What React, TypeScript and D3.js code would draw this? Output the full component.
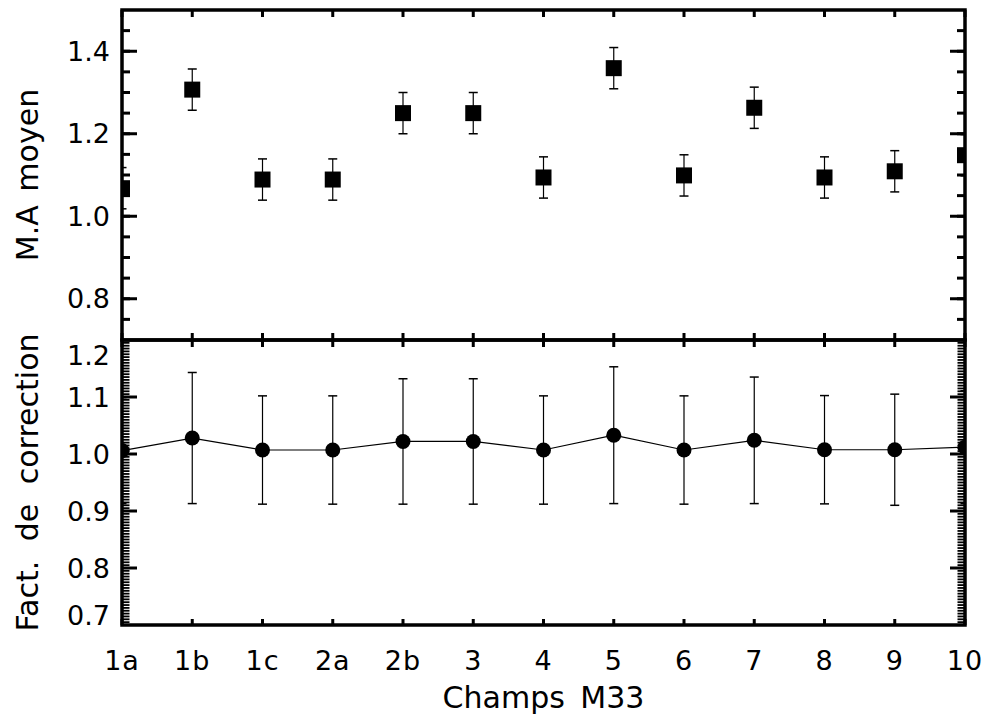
import React from 'react';
import * as d3 from 'd3';

const categories = ['1a', '1b', '1c', '2a', '2b', '3', '4', '5', '6', '7', '8', '9', '10'];
const meanValues = [1.068, 1.307, 1.089, 1.089, 1.25, 1.25, 1.094, 1.359, 1.099, 1.263, 1.094, 1.109, 1.148];
const meanErrors = [0.05, 0.05, 0.05, 0.05, 0.05, 0.05, 0.05, 0.05, 0.05, 0.05, 0.05, 0.05, 0.05];
const corrValues = [1.006, 1.028, 1.007, 1.007, 1.022, 1.022, 1.007, 1.033, 1.007, 1.024, 1.0075, 1.0075, 1.012];
const corrErrors = [0.093, 0.115, 0.095, 0.095, 0.11, 0.11, 0.095, 0.12, 0.095, 0.111, 0.095, 0.0975, 0.099];
const topDomain = [0.7, 1.5];
const bottomDomain = [0.7, 1.2];
const xTitle = 'Champs M33';
const topTitle = 'M.A moyen';
const bottomTitle = 'Fact. de correction';

const W = 987;
const H = 715;
const left = 122;
const right = 965;
const topY0 = 10;
const midY = 340;
const botY1 = 625;
const FONT = 'DejaVu Sans, sans-serif';

export default function App() {
  const x = d3.scalePoint<string>().domain(categories).range([left, right]);
  const yTop = d3.scaleLinear().domain(topDomain).range([midY, topY0]);
  const yBot = d3.scaleLinear().domain(bottomDomain).range([botY1, midY]);

  const topMajor = yTop.ticks(4).filter((t) => t > topDomain[0] + 1e-9 && t < topDomain[1] - 1e-9);
  const topMinor = yTop.ticks(16).filter((t) => t > topDomain[0] + 1e-9 && t < topDomain[1] - 1e-9);
  const botMajor = yBot.ticks(5);
  const botMinor = yBot.ticks(100).filter((t) => t > bottomDomain[0] + 1e-9 && t < bottomDomain[1] - 1e-9);

  const line = d3
    .line<number>()
    .x((_, i) => x(categories[i]) as number)
    .y((d) => yBot(d));

  const yAxisTicks = (
    scale: d3.ScaleLinear<number, number>,
    major: number[],
    minor: number[],
    majLen: number,
    minLen: number,
    minW: number,
    key: string
  ) => (
    <g key={key}>
      {minor.map((t, i) => (
        <g key={'mi' + i}>
          <line x1={left} x2={left + minLen} y1={scale(t)} y2={scale(t)} stroke="#000" strokeWidth={minW} />
          <line x1={right} x2={right - minLen} y1={scale(t)} y2={scale(t)} stroke="#000" strokeWidth={minW} />
        </g>
      ))}
      {major.map((t, i) => (
        <g key={'ma' + i}>
          <line x1={left} x2={left + majLen} y1={scale(t)} y2={scale(t)} stroke="#000" strokeWidth={3} />
          <line x1={right} x2={right - majLen} y1={scale(t)} y2={scale(t)} stroke="#000" strokeWidth={3} />
        </g>
      ))}
    </g>
  );

  return (
    <svg width={W} height={H} style={{ position: 'absolute', left: 0, top: 0, background: '#fff' }}>
      <defs>
        <clipPath id="clipTop">
          <rect x={left} y={topY0} width={right - left} height={midY - topY0} />
        </clipPath>
        <clipPath id="clipBot">
          <rect x={left} y={midY} width={right - left} height={botY1 - midY} />
        </clipPath>
      </defs>
      <rect x={0} y={0} width={W} height={H} fill="#fff" />

      {/* top panel data */}
      <g clipPath="url(#clipTop)">
        {meanValues.map((v, i) => {
          const cx = x(categories[i]) as number;
          const e = meanErrors[i];
          return (
            <g key={'t' + i}>
              <line x1={cx} x2={cx} y1={yTop(v - e)} y2={yTop(v + e)} stroke="#000" strokeWidth={1.2} />
              <line x1={cx - 4.5} x2={cx + 4.5} y1={yTop(v - e)} y2={yTop(v - e)} stroke="#000" strokeWidth={1.5} />
              <line x1={cx - 4.5} x2={cx + 4.5} y1={yTop(v + e)} y2={yTop(v + e)} stroke="#000" strokeWidth={1.5} />
              <rect x={cx - 8} y={yTop(v) - 8} width={16} height={16} fill="#000" />
            </g>
          );
        })}
      </g>

      {/* bottom panel data */}
      <g clipPath="url(#clipBot)">
        <path d={line(corrValues) as string} fill="none" stroke="#000" strokeWidth={1.2} />
        {corrValues.map((v, i) => {
          const cx = x(categories[i]) as number;
          const e = corrErrors[i];
          return (
            <g key={'b' + i}>
              <line x1={cx} x2={cx} y1={yBot(v - e)} y2={yBot(v + e)} stroke="#000" strokeWidth={1.2} />
              <line x1={cx - 4.5} x2={cx + 4.5} y1={yBot(v - e)} y2={yBot(v - e)} stroke="#000" strokeWidth={1.5} />
              <line x1={cx - 4.5} x2={cx + 4.5} y1={yBot(v + e)} y2={yBot(v + e)} stroke="#000" strokeWidth={1.5} />
              <circle cx={cx} cy={yBot(v)} r={7.5} fill="#000" />
            </g>
          );
        })}
      </g>

      {/* y ticks */}
      {yAxisTicks(yTop, topMajor, topMinor, 15, 8, 3, 'yt')}
      {yAxisTicks(yBot, botMajor.filter((t) => t > 0.7 + 1e-9 && t < 1.2 - 1e-9), botMinor, 15, 7.5, 1.8, 'yb')}

      {/* x ticks */}
      {categories.map((c, i) => {
        const cx = x(c) as number;
        return (
          <g key={'xt' + i}>
            <line x1={cx} x2={cx} y1={topY0} y2={topY0 + 7} stroke="#000" strokeWidth={3} />
            <line x1={cx} x2={cx} y1={midY - 7} y2={midY + 7} stroke="#000" strokeWidth={3} />
            <line x1={cx} x2={cx} y1={botY1} y2={botY1 - 6} stroke="#000" strokeWidth={3} />
          </g>
        );
      })}

      {/* frames */}
      <rect x={left} y={topY0} width={right - left} height={midY - topY0} fill="none" stroke="#000" strokeWidth={3.5} />
      <rect x={left} y={midY} width={right - left} height={botY1 - midY} fill="none" stroke="#000" strokeWidth={3.5} />

      {/* y tick labels */}
      {topMajor.map((t, i) => (
        <text key={'tl' + i} x={110} y={yTop(t)} textAnchor="end" dominantBaseline="central" fontFamily={FONT} fontSize={27}>
          {d3.format('.1f')(t)}
        </text>
      ))}
      {botMajor.map((t, i) => (
        <text
          key={'bl' + i}
          x={110}
          y={Math.min(Math.max(yBot(t), midY + 15), botY1 - 10)}
          textAnchor="end"
          dominantBaseline="central"
          fontFamily={FONT}
          fontSize={27}
        >
          {d3.format('.1f')(t)}
        </text>
      ))}

      {/* x tick labels */}
      {categories.map((c, i) => (
        <text key={'xl' + i} x={x(c) as number} y={670} textAnchor="middle" fontFamily={FONT} fontSize={27} letterSpacing={1}>
          {c}
        </text>
      ))}

      {/* titles */}
      <text x={(left + right) / 2} y={708} textAnchor="middle" fontFamily={FONT} fontSize={30} wordSpacing={6}>
        {xTitle}
      </text>
      <text
        transform={`translate(38, ${(topY0 + midY) / 2}) rotate(-90)`}
        textAnchor="middle"
        fontFamily={FONT}
        fontSize={30}
        wordSpacing={4}
      >
        {topTitle}
      </text>
      <text
        transform={`translate(38, ${(midY + botY1) / 2}) rotate(-90)`}
        textAnchor="middle"
        fontFamily={FONT}
        fontSize={30}
        wordSpacing={10}
      >
        {bottomTitle}
      </text>
    </svg>
  );
}
